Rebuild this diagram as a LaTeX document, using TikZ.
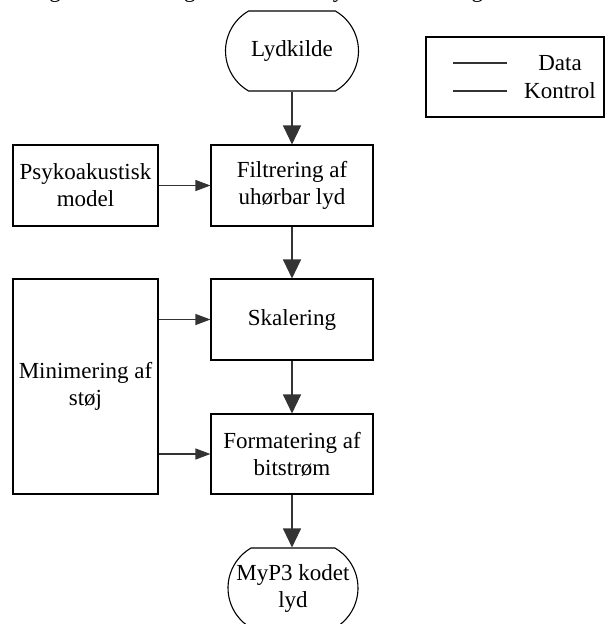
\documentclass[tikz,border=0pt]{standalone}
\usepackage{fontspec}
\setmainfont{Liberation Serif}
\usetikzlibrary{arrows.meta,shapes.misc}
\begin{document}
\begin{tikzpicture}[x=1pt,y=-1pt,
  font=\fontsize{23}{27}\selectfont,
  blk/.style={draw=black,line width=1.1pt,rectangle,inner sep=0pt,align=center},
  term/.style={draw=black,line width=1.1pt,rounded rectangle,rounded rectangle arc length=120,
    minimum width=133pt,minimum height=80pt,inner sep=0pt,align=center},
  dataarrow/.style={draw=black!80,line width=1.1pt,-{Triangle[length=19pt,width=18pt]}},
  ctrlarrow/.style={draw=black!80,line width=1.1pt,-{Triangle[length=15pt,width=11pt]}},
  legline/.style={draw=black!80,line width=1.1pt}]
\useasboundingbox (0,0) rectangle (605,624);
% cropped caption line at the top (only its lowest part is visible)
\begin{scope}
  \clip (0,-30) rectangle (605,10);
  \node[anchor=base west,inner sep=0pt] (cap) at (30,-3) {Figur 3: Blokdiagram af den benyttede Skalering.};
\end{scope}
% nodes
\node[term] (lyd) at (292,51) {Lydkilde};
\node[blk,minimum width=162pt,minimum height=81pt] (filt) at (292,185.5) {Filtrering af\\uhørbar lyd};
\node[blk,minimum width=145pt,minimum height=81pt] (psy) at (85.5,185.5) {Psykoakustisk\\model};
\node[blk,minimum width=162pt,minimum height=81pt] (skal) at (292,319.5) {Skalering};
\node[blk,minimum width=162pt,minimum height=80pt] (form) at (292,454) {Formatering af\\bitstrøm};
\node[blk,minimum width=145pt,minimum height=215pt] (mini) at (85.5,386.5) {Minimering af\\støj};
\node[term,minimum width=130pt] (myp) at (293,588) {MyP3 kodet\\lyd};
% legend
\node[blk,minimum width=178pt,minimum height=80pt] (leg) at (515,77) {};
\coordinate (d1) at (453,63);
\coordinate (d2) at (507,63);
\coordinate (k1) at (453,91);
\coordinate (k2) at (507,91);
\draw[legline] (d1) -- (d2);
\draw[legline] (k1) -- (k2);
\node (ldata) at (560,63) {Data};
\node (lkon) at (560,91) {Kontrol};
% connectors
\draw[dataarrow] (lyd.south) -- (filt.north);
\draw[dataarrow] (filt.south) -- (skal.north);
\draw[dataarrow] (skal.south) -- (form.north);
\draw[dataarrow] (form.south) -- (form.south |- myp.north);
\draw[ctrlarrow] (psy.east) -- (filt.west);
\draw[ctrlarrow] (mini.east |- skal.west) -- (skal.west);
\draw[ctrlarrow] (mini.east |- form.west) -- (form.west);
\end{tikzpicture}
\end{document}
